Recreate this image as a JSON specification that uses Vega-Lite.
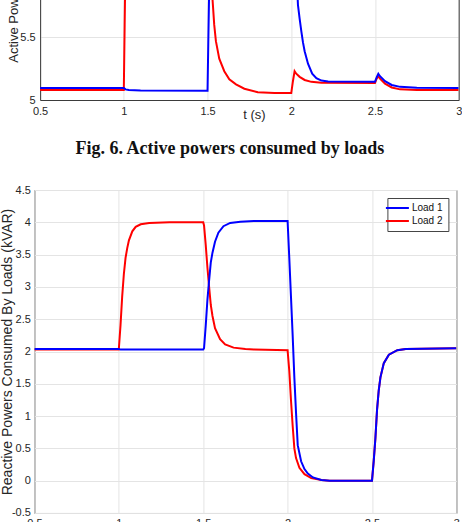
{
  "$schema": "https://vega.github.io/schema/vega-lite/v6.json",
  "padding": {"top": -219, "left": -0.6, "bottom": -10, "right": 0},
  "background": "white",
  "config": {
    "view": {"stroke": "#3a3a3a", "strokeWidth": 1},
    "font": "Liberation Sans",
    "axis": {
      "labelFont": "Liberation Sans", "labelFontSize": 11, "labelColor": "#262626", "labelFlush": false,
      "titleFont": "Liberation Sans", "titleFontSize": 13, "titleFontWeight": "normal", "titleColor": "#262626",
      "ticks": false, "domain": false, "grid": true, "gridColor": "#e4e4e4", "gridWidth": 1,
      "labelExpr": "toString(datum.value)"
    }
  },
  "datasets": {
    "active": [
      {"load": "Load 2", "t": 0.5, "v": 5.08}, {"load": "Load 2", "t": 1.0, "v": 5.08}, {"load": "Load 2", "t": 1.005, "v": 5.6},
      {"load": "Load 2", "t": 1.01, "v": 6.1}, {"load": "Load 2", "t": 1.015, "v": 6.45}, {"load": "Load 2", "t": 1.025, "v": 6.75},
      {"load": "Load 2", "t": 1.04, "v": 6.9}, {"load": "Load 2", "t": 1.07, "v": 6.97}, {"load": "Load 2", "t": 1.1, "v": 7.0},
      {"load": "Load 2", "t": 1.5, "v": 7.0}, {"load": "Load 2", "t": 1.505, "v": 6.9}, {"load": "Load 2", "t": 1.515, "v": 6.5},
      {"load": "Load 2", "t": 1.525, "v": 6.05}, {"load": "Load 2", "t": 1.53, "v": 5.8}, {"load": "Load 2", "t": 1.54, "v": 5.6},
      {"load": "Load 2", "t": 1.55, "v": 5.47},
      {"load": "Load 2", "t": 1.57, "v": 5.33}, {"load": "Load 2", "t": 1.6, "v": 5.23}, {"load": "Load 2", "t": 1.63, "v": 5.165},
      {"load": "Load 2", "t": 1.67, "v": 5.125}, {"load": "Load 2", "t": 1.72, "v": 5.09}, {"load": "Load 2", "t": 1.8, "v": 5.062},
      {"load": "Load 2", "t": 1.9, "v": 5.056}, {"load": "Load 2", "t": 2.0, "v": 5.055}, {"load": "Load 2", "t": 2.01, "v": 5.15},
      {"load": "Load 2", "t": 2.02, "v": 5.23}, {"load": "Load 2", "t": 2.03, "v": 5.21}, {"load": "Load 2", "t": 2.05, "v": 5.185},
      {"load": "Load 2", "t": 2.08, "v": 5.16}, {"load": "Load 2", "t": 2.12, "v": 5.145}, {"load": "Load 2", "t": 2.18, "v": 5.137},
      {"load": "Load 2", "t": 2.5, "v": 5.135}, {"load": "Load 2", "t": 2.51, "v": 5.17}, {"load": "Load 2", "t": 2.52, "v": 5.19},
      {"load": "Load 2", "t": 2.53, "v": 5.17}, {"load": "Load 2", "t": 2.56, "v": 5.13}, {"load": "Load 2", "t": 2.6, "v": 5.1},
      {"load": "Load 2", "t": 2.65, "v": 5.085}, {"load": "Load 2", "t": 2.75, "v": 5.08}, {"load": "Load 2", "t": 3.0, "v": 5.08},
      {"load": "Load 1", "t": 0.5, "v": 5.096}, {"load": "Load 1", "t": 1.0, "v": 5.096}, {"load": "Load 1", "t": 1.01, "v": 5.085},
      {"load": "Load 1", "t": 1.03, "v": 5.08}, {"load": "Load 1", "t": 1.1, "v": 5.076}, {"load": "Load 1", "t": 1.5, "v": 5.074},
      {"load": "Load 1", "t": 1.505, "v": 5.5}, {"load": "Load 1", "t": 1.51, "v": 5.9}, {"load": "Load 1", "t": 1.515, "v": 6.25},
      {"load": "Load 1", "t": 1.53, "v": 6.7}, {"load": "Load 1", "t": 1.56, "v": 6.92}, {"load": "Load 1", "t": 1.6, "v": 6.98},
      {"load": "Load 1", "t": 1.65, "v": 7.0}, {"load": "Load 1", "t": 2.0, "v": 7.0}, {"load": "Load 1", "t": 2.01, "v": 6.8},
      {"load": "Load 1", "t": 2.02, "v": 6.4}, {"load": "Load 1", "t": 2.03, "v": 6.05},
      {"load": "Load 1", "t": 2.04, "v": 5.76}, {"load": "Load 1", "t": 2.05, "v": 5.65}, {"load": "Load 1", "t": 2.06, "v": 5.55},
      {"load": "Load 1", "t": 2.07, "v": 5.46}, {"load": "Load 1", "t": 2.08, "v": 5.39}, {"load": "Load 1", "t": 2.1, "v": 5.29},
      {"load": "Load 1", "t": 2.125, "v": 5.21}, {"load": "Load 1", "t": 2.15, "v": 5.175}, {"load": "Load 1", "t": 2.18, "v": 5.155},
      {"load": "Load 1", "t": 2.22, "v": 5.147}, {"load": "Load 1", "t": 2.5, "v": 5.145}, {"load": "Load 1", "t": 2.51, "v": 5.18},
      {"load": "Load 1", "t": 2.52, "v": 5.21}, {"load": "Load 1", "t": 2.53, "v": 5.19}, {"load": "Load 1", "t": 2.56, "v": 5.15},
      {"load": "Load 1", "t": 2.6, "v": 5.12}, {"load": "Load 1", "t": 2.65, "v": 5.105}, {"load": "Load 1", "t": 2.75, "v": 5.097},
      {"load": "Load 1", "t": 3.0, "v": 5.096}
    ],
    "reactive": [
      {"load": "Load 2", "t": 0.5, "v": 2.03}, {"load": "Load 2", "t": 1.0, "v": 2.03}, {"load": "Load 2", "t": 1.01, "v": 2.4},
      {"load": "Load 2", "t": 1.02, "v": 2.85}, {"load": "Load 2", "t": 1.03, "v": 3.2}, {"load": "Load 2", "t": 1.04, "v": 3.45},
      {"load": "Load 2", "t": 1.05, "v": 3.6}, {"load": "Load 2", "t": 1.06, "v": 3.72}, {"load": "Load 2", "t": 1.08, "v": 3.86},
      {"load": "Load 2", "t": 1.1, "v": 3.93}, {"load": "Load 2", "t": 1.13, "v": 3.97}, {"load": "Load 2", "t": 1.18, "v": 3.99},
      {"load": "Load 2", "t": 1.3, "v": 4.0}, {"load": "Load 2", "t": 1.5, "v": 4.0}, {"load": "Load 2", "t": 1.505, "v": 3.95},
      {"load": "Load 2", "t": 1.515, "v": 3.65}, {"load": "Load 2", "t": 1.525, "v": 3.3}, {"load": "Load 2", "t": 1.535, "v": 3.0},
      {"load": "Load 2", "t": 1.545, "v": 2.72}, {"load": "Load 2", "t": 1.555, "v": 2.55}, {"load": "Load 2", "t": 1.57, "v": 2.36},
      {"load": "Load 2", "t": 1.6, "v": 2.19}, {"load": "Load 2", "t": 1.63, "v": 2.11}, {"load": "Load 2", "t": 1.68, "v": 2.06},
      {"load": "Load 2", "t": 1.75, "v": 2.04}, {"load": "Load 2", "t": 1.8, "v": 2.03}, {"load": "Load 2", "t": 2.0, "v": 2.02},
      {"load": "Load 2", "t": 2.01, "v": 1.7}, {"load": "Load 2", "t": 2.02, "v": 1.25}, {"load": "Load 2", "t": 2.03, "v": 0.85},
      {"load": "Load 2", "t": 2.04, "v": 0.5}, {"load": "Load 2", "t": 2.05, "v": 0.35}, {"load": "Load 2", "t": 2.07, "v": 0.2},
      {"load": "Load 2", "t": 2.1, "v": 0.1}, {"load": "Load 2", "t": 2.14, "v": 0.04}, {"load": "Load 2", "t": 2.2, "v": 0.01},
      {"load": "Load 2", "t": 2.25, "v": 0.0}, {"load": "Load 2", "t": 2.5, "v": 0.0}, {"load": "Load 2", "t": 2.51, "v": 0.3},
      {"load": "Load 2", "t": 2.52, "v": 0.65}, {"load": "Load 2", "t": 2.53, "v": 1.1}, {"load": "Load 2", "t": 2.54, "v": 1.4},
      {"load": "Load 2", "t": 2.55, "v": 1.6}, {"load": "Load 2", "t": 2.57, "v": 1.82}, {"load": "Load 2", "t": 2.6, "v": 1.95},
      {"load": "Load 2", "t": 2.65, "v": 2.02}, {"load": "Load 2", "t": 2.7, "v": 2.04}, {"load": "Load 2", "t": 3.0, "v": 2.05},
      {"load": "Load 1", "t": 0.5, "v": 2.04}, {"load": "Load 1", "t": 1.0, "v": 2.04}, {"load": "Load 1", "t": 1.01, "v": 2.03},
      {"load": "Load 1", "t": 1.5, "v": 2.03}, {"load": "Load 1", "t": 1.505, "v": 2.05}, {"load": "Load 1", "t": 1.515, "v": 2.4},
      {"load": "Load 1", "t": 1.525, "v": 2.8}, {"load": "Load 1", "t": 1.535, "v": 3.1}, {"load": "Load 1", "t": 1.545, "v": 3.38},
      {"load": "Load 1", "t": 1.555, "v": 3.53}, {"load": "Load 1", "t": 1.57, "v": 3.7}, {"load": "Load 1", "t": 1.59, "v": 3.84},
      {"load": "Load 1", "t": 1.62, "v": 3.94}, {"load": "Load 1", "t": 1.66, "v": 3.99}, {"load": "Load 1", "t": 1.72, "v": 4.01},
      {"load": "Load 1", "t": 1.8, "v": 4.02}, {"load": "Load 1", "t": 2.0, "v": 4.02}, {"load": "Load 1", "t": 2.01, "v": 3.45},
      {"load": "Load 1", "t": 2.02, "v": 2.85}, {"load": "Load 1", "t": 2.03, "v": 2.25}, {"load": "Load 1", "t": 2.04, "v": 1.6},
      {"load": "Load 1", "t": 2.05, "v": 1.05}, {"load": "Load 1", "t": 2.06, "v": 0.55}, {"load": "Load 1", "t": 2.08, "v": 0.3},
      {"load": "Load 1", "t": 2.1, "v": 0.18}, {"load": "Load 1", "t": 2.12, "v": 0.11}, {"load": "Load 1", "t": 2.15, "v": 0.05},
      {"load": "Load 1", "t": 2.2, "v": 0.01}, {"load": "Load 1", "t": 2.25, "v": 0.0}, {"load": "Load 1", "t": 2.5, "v": 0.0},
      {"load": "Load 1", "t": 2.51, "v": 0.3}, {"load": "Load 1", "t": 2.52, "v": 0.65}, {"load": "Load 1", "t": 2.53, "v": 1.1},
      {"load": "Load 1", "t": 2.54, "v": 1.4}, {"load": "Load 1", "t": 2.55, "v": 1.6}, {"load": "Load 1", "t": 2.57, "v": 1.82},
      {"load": "Load 1", "t": 2.6, "v": 1.95}, {"load": "Load 1", "t": 2.65, "v": 2.02}, {"load": "Load 1", "t": 2.7, "v": 2.04},
      {"load": "Load 1", "t": 3.0, "v": 2.05}
    ]
  },
  "concat": [
    {
      "width": 424.3,
      "height": 313,
      "view": {"stroke": null},
      "data": {"name": "active"},
      "layer": [
        {
          "mark": {"type": "line", "strokeWidth": 2, "clip": true},
          "encoding": {
            "x": {"field": "t", "type": "quantitative", "scale": {"domain": [0.5, 3], "range": [5.7, 424.3], "nice": false},
                  "axis": {"values": [0.5, 1, 1.5, 2, 2.5, 3], "title": "t (s)", "titleX": 219.6, "titleY": 14, "titleBaseline": "middle", "labelPadding": 5,
                           "domain": true, "domainColor": "#3a3a3a", "domainWidth": 1}},
            "y": {"field": "v", "type": "quantitative", "scale": {"domain": [5, 7.5], "nice": false, "zero": false},
                  "axis": {"values": [5, 5.5, 6, 6.5, 7, 7.5], "title": "Active Powers Consumed By Loads (kW)", "titlePadding": -0.5, "labelPadding": 5,
                           "offset": -5.7, "domain": true, "domainColor": "#3a3a3a", "domainWidth": 1}},
            "color": {"field": "load", "type": "nominal", "scale": {"domain": ["Load 1", "Load 2"], "range": ["#0000ff", "#ff0000"]}, "legend": null}
          }
        },
        {
          "mark": {"type": "line", "strokeWidth": 0, "opacity": 0},
          "encoding": {
            "x": {"field": "t", "type": "quantitative"},
            "y": {"field": "v", "type": "quantitative",
                  "axis": {"orient": "right", "labels": false, "grid": false, "ticks": false, "title": null,
                           "domain": true, "domainColor": "#3a3a3a", "domainWidth": 1}}
          }
        }
      ],
      "resolve": {"axis": {"y": "independent"}}
    },
    {
      "width": 422,
      "height": 323,
      "title": {"text": "Fig. 6. Active powers consumed by loads", "font": "Liberation Serif", "fontSize": 18, "fontWeight": "bold", "color": "#111111", "anchor": "middle", "frame": "bounds", "baseline": "alphabetic", "offset": 12},
      "data": {"name": "reactive"},
      "mark": {"type": "line", "strokeWidth": 2, "clip": true},
      "encoding": {
        "x": {"field": "t", "type": "quantitative", "scale": {"domain": [0.5, 3], "nice": false},
              "axis": {"values": [0.5, 1, 1.5, 2, 2.5, 3], "title": "t (s)", "titleX": 215, "titleY": 14, "titleBaseline": "middle", "labelPadding": 5}},
        "y": {"field": "v", "type": "quantitative", "scale": {"domain": [-0.5, 4.5], "nice": false, "zero": false},
              "axis": {"values": [-0.5, 0, 0.5, 1, 1.5, 2, 2.5, 3, 3.5, 4, 4.5], "title": "Reactive Powers Consumed By Loads (kVAR)", "titleFontSize": 14, "titlePadding": -3, "labelPadding": 4}},
        "color": {"field": "load", "type": "nominal", "scale": {"domain": ["Load 1", "Load 2"], "range": ["#0000ff", "#ff0000"]},
                  "legend": {"orient": "top-right", "offset": 8, "title": null, "symbolType": "M-2.875,0H2.875", "symbolSize": 64, "symbolStrokeWidth": 2,
                             "labelFontSize": 10, "labelFont": "Liberation Sans", "labelColor": "#111111", "strokeColor": "#444444", "fillColor": "white",
                             "padding": 5, "rowPadding": 3, "labelOffset": 9.5}}
      }
    }
  ],
  "columns": 1,
  "align": {"row": "none", "column": "all"},
  "spacing": 18,
  "resolve": {"scale": {"color": "independent", "x": "independent", "y": "independent"}, "legend": {"color": "independent"}, "axis": {"x": "independent", "y": "independent"}}
}
